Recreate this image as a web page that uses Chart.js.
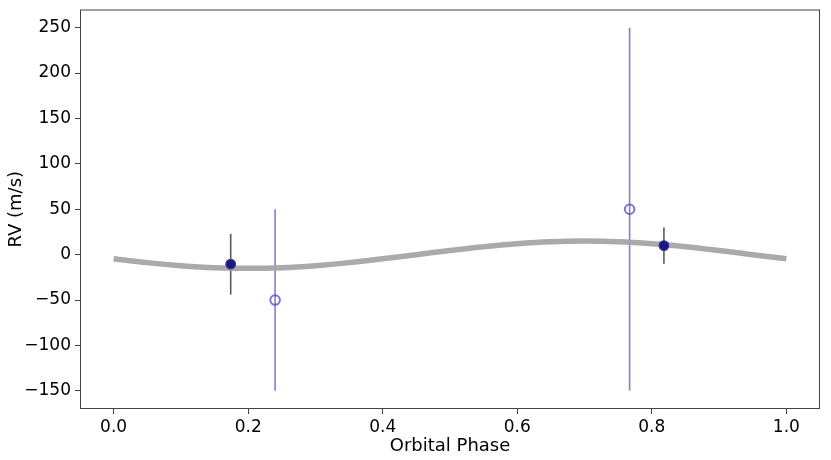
<!DOCTYPE html>
<html>
<head>
<meta charset="utf-8">
<script src="https://cdn.jsdelivr.net/npm/chart.js@4.4.1/dist/chart.umd.min.js"></script>
<style>
  html, body { margin: 0; padding: 0; background: #fff; }
  #wrap { width: 831px; height: 460px; }
</style>
</head>
<body>
<div id="wrap"><canvas id="rvChart"></canvas></div>
<script>
// model curve, every 0.05 in phase
const modelPhase = [0, 0.05, 0.1, 0.15, 0.2, 0.25, 0.3, 0.35, 0.4, 0.45, 0.5,
  0.55, 0.6, 0.65, 0.7, 0.75, 0.8, 0.85, 0.9, 0.95, 1.0];
const modelRV = [-4.6, -8.8, -12.1, -14.3, -15, -14.3, -12.1, -8.8, -4.6, 0, 4.6,
  8.8, 12.1, 14.3, 15, 14.3, 12.1, 8.8, 4.6, 0, -4.6];

// filled points
const filledPhase = [0.174, 0.818];
const filledRV = [-10.5, 10];
const filledErr = [33.5, 20];

// open points
const openPhase = [0.24, 0.767];
const openRV = [-50, 50];
const openErr = [100, 200];

const xTicks = [0, 0.2, 0.4, 0.6, 0.8, 1.0];
const yTicks = [-150, -100, -50, 0, 50, 100, 150, 200, 250];

const FONT = "'DejaVu Sans', sans-serif";

const toPts = (xs, ys) => xs.map((x, i) => ({ x: x, y: ys[i] }));

// error bars + frame
const errBarPlugin = {
  id: "errBars",
  beforeDatasetsDraw(chart) {
    const { ctx, scales } = chart;
    const xs = scales.x, ys = scales.y;
    const draw = (px, py, err, color) => {
      ctx.save();
      ctx.strokeStyle = color;
      ctx.lineWidth = 1.6;
      px.forEach((p, i) => {
        const x = xs.getPixelForValue(p);
        ctx.beginPath();
        ctx.moveTo(x, ys.getPixelForValue(py[i] - err[i]));
        ctx.lineTo(x, ys.getPixelForValue(py[i] + err[i]));
        ctx.stroke();
      });
      ctx.restore();
    };
    draw(openPhase, openRV, openErr, "rgba(106,90,205,0.8)");
    draw(filledPhase, filledRV, filledErr, "rgba(0,0,0,0.65)");
  },
  afterDraw(chart) {
    const { ctx, chartArea: a } = chart;
    ctx.save();
    ctx.strokeStyle = "#444";
    ctx.lineWidth = 1;
    ctx.strokeRect(a.left + 0.5, a.top + 0.5, a.right - a.left - 1, a.bottom - a.top - 1);
    ctx.restore();
  },
};

Chart.register(errBarPlugin);

new Chart(document.getElementById("rvChart"), {
  type: "scatter",
  data: {
    datasets: [
      {
        type: "line",
        data: toPts(modelPhase, modelRV),
        borderColor: "rgba(165,165,165,0.95)",
        borderWidth: 5.5,
        pointRadius: 0,
        tension: 0.4,
        fill: false,
        order: 3,
      },
      {
        data: toPts(openPhase, openRV),
        pointRadius: 4.8,
        pointBorderWidth: 2,
        pointBackgroundColor: "rgba(255,255,255,0)",
        pointBorderColor: "rgba(85,85,195,0.8)",
        order: 2,
      },
      {
        data: toPts(filledPhase, filledRV),
        pointRadius: 4.8,
        pointBorderWidth: 1.2,
        pointBackgroundColor: "#1a1a70",
        pointBorderColor: "#3030b0",
        order: 1,
      },
    ],
  },
  options: {
    responsive: true,
    maintainAspectRatio: false,
    animation: false,
    layout: { padding: { top: 9.5, right: 11, left: 0, bottom: 0 } },
    plugins: {
      legend: { display: false },
      tooltip: { enabled: false },
    },
    scales: {
      x: {
        type: "linear",
        min: -0.05,
        max: 1.05,
        afterBuildTicks(scale) {
          scale.ticks = xTicks.map((v) => ({ value: v }));
        },
        afterFit(scale) {
          scale.height = 51;
          scale.paddingLeft = 0;
          scale.paddingRight = 0;
        },
        ticks: {
          color: "#000",
          font: { family: FONT, size: 17 },
          padding: 3,
          maxRotation: 0,
          callback: (v) => v.toFixed(1),
        },
        grid: { drawOnChartArea: false, drawTicks: true, tickLength: 5, color: "#444" },
        border: { display: false },
        title: {
          display: true,
          text: "Orbital Phase",
          color: "#000",
          font: { family: FONT, size: 18 },
          padding: { top: 0, bottom: 3 },
        },
      },
      y: {
        type: "linear",
        min: -170,
        max: 270,
        afterBuildTicks(scale) {
          scale.ticks = yTicks.map((v) => ({ value: v }));
        },
        afterFit(scale) {
          scale.width = 80;
          scale.paddingTop = 0;
          scale.paddingBottom = 0;
        },
        ticks: {
          color: "#000",
          font: { family: FONT, size: 17 },
          padding: 4,
          callback: (v) => v.toString().replace("-", "\u2212"),
        },
        grid: { drawOnChartArea: false, drawTicks: true, tickLength: 5, color: "#444" },
        border: { display: false },
        title: {
          display: true,
          text: "RV (m/s)",
          color: "#000",
          font: { family: FONT, size: 18 },
          padding: { top: 6, bottom: 0 },
        },
      },
    },
  },
});
</script>
</body>
</html>
